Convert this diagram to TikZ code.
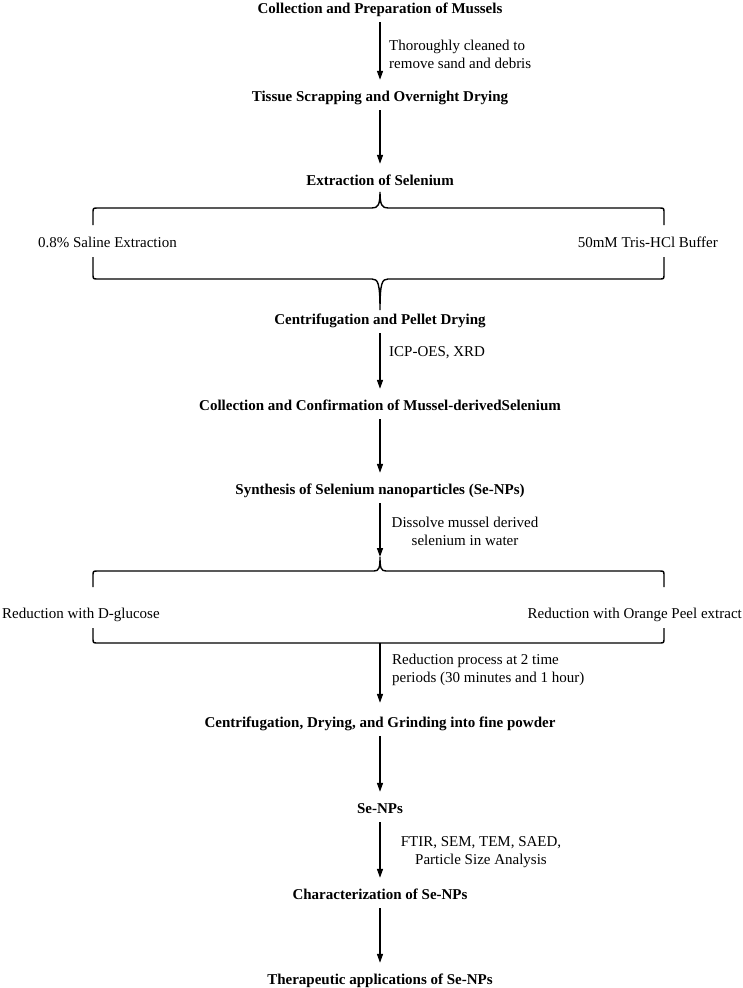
\documentclass[tikz,border=0pt]{standalone}
\usepackage{fontspec}
\setmainfont{Liberation Serif}
\usetikzlibrary{arrows.meta}
\begin{document}
\begin{tikzpicture}[x=1pt,y=-1pt,
  every node/.style={font=\fontsize{15}{18}\selectfont, inner sep=0pt},
  ttl/.style={font=\fontsize{15}{18}\selectfont\bfseries, text height=10pt, text depth=0pt, anchor=center},
  opt/.style={text height=10pt, text depth=0pt},
  lbl/.style={align=left, anchor=west},
  lblc/.style={align=center},
  arr/.style={line width=1.4pt, -{Triangle[length=9pt,width=6pt]}, shorten <=9pt, shorten >=11pt},
  brc/.style={line width=1.4pt}
]
\useasboundingbox (0,0) rectangle (743,988);

% main steps
\node[ttl] (t1) at (380,8) {Collection and Preparation of Mussels};
\node[ttl] (t2) at (380,96) {Tissue Scrapping and Overnight Drying};
\node[ttl] (t3) at (380,180) {Extraction of Selenium};
\node[ttl] (t4) at (380,319) {Centrifugation and Pellet Drying};
\node[ttl] (t5) at (380,405) {Collection and Confirmation of Mussel-derivedSelenium};
\node[ttl] (t6) at (380,489) {Synthesis of Selenium nanoparticles (Se-NPs)};
\node[ttl] (t7) at (380,722) {Centrifugation, Drying, and Grinding into fine powder};
\node[ttl] (t8) at (380,808) {Se-NPs};
\node[ttl] (t9) at (380,894) {Characterization of Se-NPs};
\node[ttl] (t10) at (380,979) {Therapeutic applications of Se-NPs};

% options
\node[opt, anchor=east] (s1) at (177,242) {0.8\% Saline Extraction};
\node[opt, anchor=east] (s2) at (718,242) {50mM Tris-HCl Buffer};
\node[opt, anchor=west] (r1) at (2,613) {Reduction with D-glucose};
\node[opt, anchor=east] (r2) at (742,613) {Reduction with Orange Peel extract};

% arrow labels
\node[lbl] (l1) at (389,54) {Thoroughly cleaned to\\remove sand and debris};
\node[lbl] (l2) at (389,353) {ICP-OES, XRD};
\node[lblc] (l3) at (465,531) {Dissolve mussel derived\\selenium in water};
\node[lbl] (l4) at (392,670) {Reduction process at 2 time\\periods (30 minutes and 1 hour)};
\node[lblc] (l5) at (481,852) {FTIR, SEM, TEM, SAED,\\Particle Size Analysis};

% brace coordinates
\coordinate (b1tip) at (380,192);
\coordinate (b1bot) at (380,310);
\coordinate (b2tip) at (380,557);
\coordinate (b3mid) at (380,643);

% first brace (top)
\draw[brc] (93,225) -- (93,213) .. controls (93,208) .. (98,208) -- (372,208)
  .. controls (378,208) and (380,205) .. (b1tip)
  .. controls (380,205) and (382,208) .. (388,208) -- (659,208)
  .. controls (664,208) .. (664,213) -- (664,225);
% first brace (bottom)
\draw[brc] (93,257) -- (93,274) .. controls (93,279) .. (98,279) -- (372,279)
  .. controls (378,279) and (380,283) .. (b1bot)
  .. controls (380,283) and (382,279) .. (388,279) -- (659,279)
  .. controls (664,279) .. (664,274) -- (664,257);
% second brace (top)
\draw[brc] (93,587) -- (93,576) .. controls (93,571) .. (98,571) -- (374,571)
  .. controls (379,571) and (380,568) .. (b2tip)
  .. controls (380,568) and (381,571) .. (386,571) -- (659,571)
  .. controls (664,571) .. (664,576) -- (664,587);
% second bracket (bottom)
\draw[brc] (93,628) -- (93,638) .. controls (93,643) .. (98,643) -- (b3mid) -- (659,643)
  .. controls (664,643) .. (664,638) -- (664,628);

% connectors
\draw[arr] (t1) -- (t2);
\draw[arr] (t2) -- (t3);
\draw[arr] (t4) -- (t5);
\draw[arr] (t5) -- (t6);
\draw[arr, shorten >=0pt] (t6) -- (b2tip);
\draw[arr, shorten <=0pt, shorten >=14pt] (b3mid) -- (t7);
\draw[arr] (t7) -- (t8);
\draw[arr] (t8) -- (t9);
\draw[arr] (t9) -- (t10);
\end{tikzpicture}
\end{document}
